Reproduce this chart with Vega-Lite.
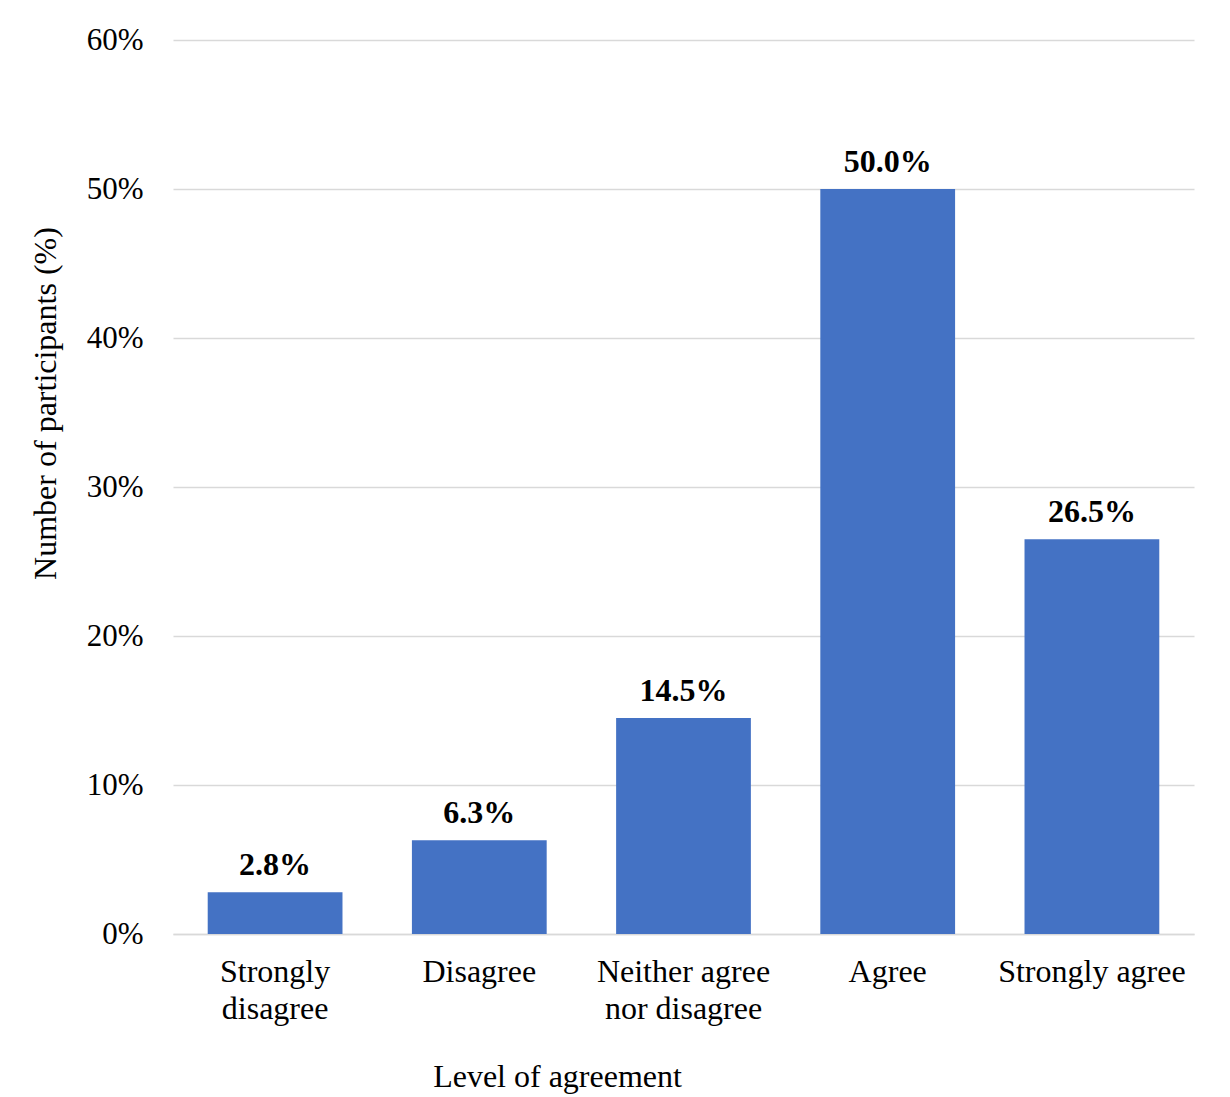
{
  "$schema": "https://vega.github.io/schema/vega-lite/v6.json",
  "autosize": {"type": "none"},
  "padding": {"left": 173, "top": 40, "right": 36, "bottom": 163},
  "width": 1021,
  "height": 894,
  "background": "white",
  "config": {
    "font": "Liberation Serif",
    "view": {"stroke": null}
  },
  "data": {
    "values": [
      {"level": "Strongly disagree", "pct": 0.028},
      {"level": "Disagree", "pct": 0.063},
      {"level": "Neither agree nor disagree", "pct": 0.145},
      {"level": "Agree", "pct": 0.5},
      {"level": "Strongly agree", "pct": 0.265}
    ]
  },
  "encoding": {
    "x": {
      "field": "level",
      "type": "nominal",
      "sort": null,
      "scale": {"paddingInner": 0.34, "paddingOuter": 0.17},
      "axis": {
        "title": "Level of agreement",
        "titleFont": "Liberation Serif",
        "titleFontSize": 32,
        "titleFontWeight": "normal",
        "titleColor": "black",
        "titleX": 384,
        "titleY": 142,
        "titleAlign": "center",
        "titleBaseline": "middle",
        "labelAngle": 0,
        "labelFontSize": 32,
        "labelColor": "black",
        "labelPadding": 37,
        "labelLineHeight": 37,
        "labelBaseline": "middle",
        "labelLimit": 0,
        "labelOverlap": false,
        "labelExpr": "datum.value == 'Strongly disagree' ? ['Strongly', 'disagree'] : datum.value == 'Neither agree nor disagree' ? ['Neither agree', 'nor disagree'] : datum.value",
        "ticks": false,
        "domainColor": "#d9d9d9",
        "domainWidth": 1.5
      }
    },
    "y": {
      "field": "pct",
      "type": "quantitative",
      "scale": {"domain": [0, 0.6]},
      "axis": {
        "title": "Number of participants (%)",
        "titleFont": "Liberation Serif",
        "titleFontSize": 32,
        "titleFontWeight": "normal",
        "titleColor": "black",
        "titleX": -128,
        "titleY": 363,
        "titleAlign": "center",
        "titleBaseline": "middle",
        "values": [0, 0.1, 0.2, 0.3, 0.4, 0.5, 0.6],
        "format": ".0%",
        "labelFontSize": 31,
        "labelColor": "black",
        "labelPadding": 30,
        "ticks": false,
        "domain": false,
        "gridColor": "#d9d9d9",
        "gridWidth": 1.5
      }
    }
  },
  "layer": [
    {"mark": {"type": "bar", "color": "#4472C4"}},
    {
      "mark": {
        "type": "text",
        "baseline": "bottom",
        "dy": -10,
        "fontSize": 32,
        "fontWeight": "bold",
        "color": "black"
      },
      "encoding": {
        "text": {"field": "pct", "type": "quantitative", "format": ".1%"}
      }
    }
  ]
}
